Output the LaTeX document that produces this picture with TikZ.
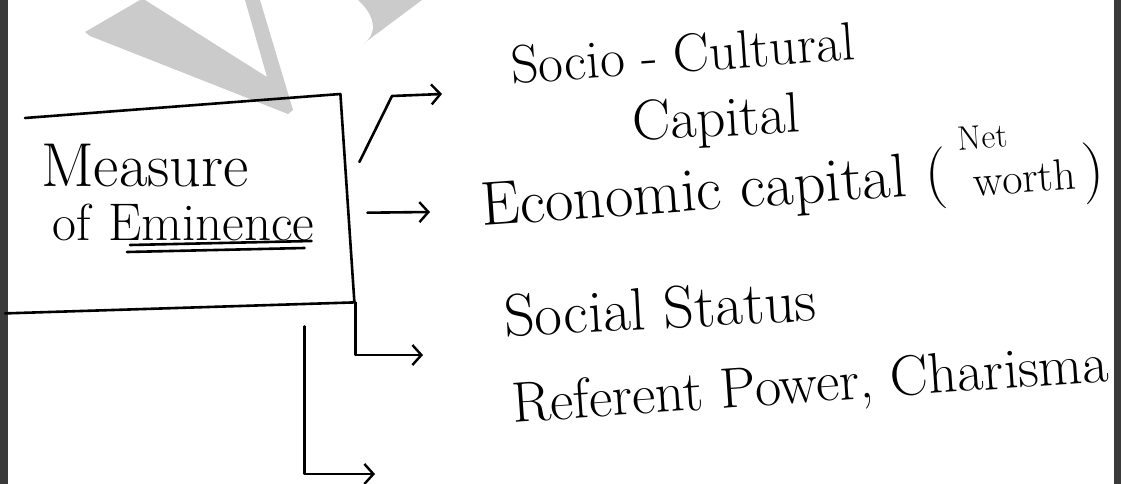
\documentclass[tikz,border=0pt]{standalone}
\usetikzlibrary{arrows.meta,calc}
\definecolor{wmgrey}{HTML}{CBCBCB}
\definecolor{frame}{HTML}{3A3A3A}

\begin{document}
\begin{tikzpicture}[x=1pt, y=-1pt,
  hand/.style={font=\fontsize{#1}{#1}\selectfont, inner sep=0pt},
  hand/.default=58,
  pen/.style={line width=2.6pt, line cap=round, line join=round},
  arr/.style={pen, -{Straight Barb[length=9pt, width=20pt, line width=2.4pt]}}]

  \useasboundingbox (0,0) rectangle (1121,484);

  \fill[wmgrey] (85,32) -- (140,0) -- (145,0) -- (267,77) -- (245,0) -- (260,0) -- (293,110) -- (288,114) -- (90,36) -- cycle;
  \fill[wmgrey] (358,0) .. controls (378,18) and (376,36) .. (363,44) -- (422,0) -- cycle;

  \draw[frame, line width=7pt] (4,0) -- (4,484);
  \draw[frame, line width=7pt] (1117,0) -- (1117,484);

  \node[anchor=north west, minimum width=343pt, minimum height=201pt, inner sep=0pt] (box) at (5,106) {};
  \draw[pen] ($(box.north west)+(20,12)$) -- ($(box.north east)+(-8,-12)$)
    -- ($(box.south east)+(6,-5)$) -- ($(box.south west)+(0,6)$);
  \node[hand=62, anchor=base west] (measure) at (41,186) {Measure};
  \node[hand=52, anchor=base west] (of) at (52,240) {of};
  \node[hand=53, anchor=base west] (eminence) at (108,240) {Eminence};
  \draw[pen] ($(eminence.base west)+(22,5)$) -- ($(eminence.base east)+(-3,1)$);
  \draw[pen] ($(eminence.base west)+(19,12)$) -- ($(eminence.base east)+(-10,8)$);

  \node[hand=54, anchor=base west, rotate=4] (socio) at (512,84) {Socio - Cultural};
  \node[hand=57, anchor=base west, rotate=3] (capital) at (633,141) {Capital};
  \node[hand=62, anchor=base west, rotate=4] (economic) at (482,226) {Economic capital (};
  \node[hand=34, anchor=base west, rotate=4] (net) at ($(economic.base east)+(10,-43)$) {Net};
  \node[hand=44, anchor=base west, rotate=4] (worth) at ($(economic.base east)+(26,3)$) {worth};
  \node[hand=62, anchor=base west, rotate=4] (close) at ($(worth.base east)+(6,0)$) {)};
  \node[hand=60, anchor=base west, rotate=3] (status) at (505,337) {Social Status};
  \node[hand=57, anchor=base west, rotate=4] (referent) at (513,423) {Referent Power, Charisma};

  \coordinate (blank) at (375,474);

  \draw[arr] ($(box.north east)+(11,56)$) -- (392,96) -- ($(socio.base west)+(-70,10)$);
  \draw[arr] ($(box.east)+(19,6)$) -- ($(economic.base west)+(-52,-14)$);
  \draw[arr] ($(box.south east)+(7,-5)$) |- ($(status.base west)+(-82,18)$);
  \draw[arr] ($(box.south east)+(-44,19)$) |- (blank);

\end{tikzpicture}
\end{document}
